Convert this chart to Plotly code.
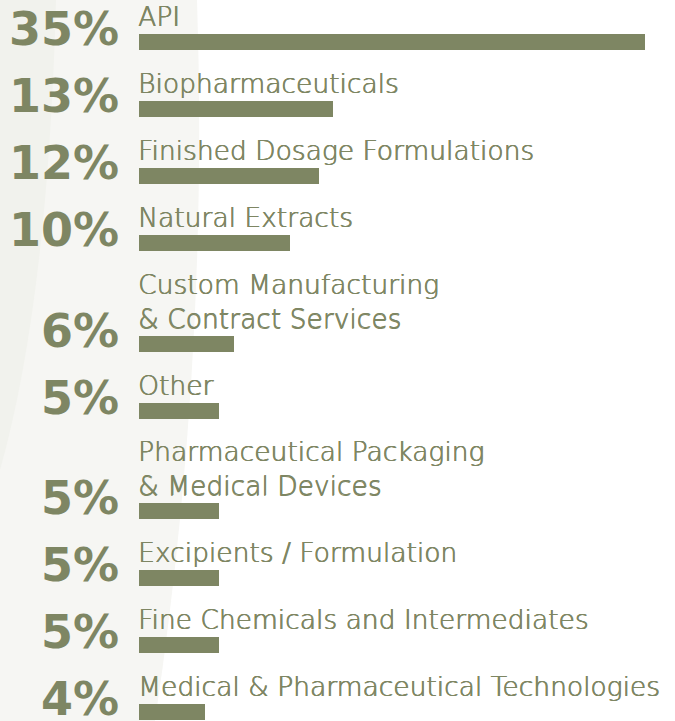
import plotly.graph_objects as go

# ---- data ----
categories = [
    "API",
    "Biopharmaceuticals",
    "Finished Dosage Formulations",
    "Natural Extracts",
    "Custom Manufacturing<br>& Contract Services",
    "Other",
    "Pharmaceutical Packaging<br>& Medical Devices",
    "Excipients / Formulation",
    "Fine Chemicals and Intermediates",
    "Medical & Pharmaceutical Technologies",
]
shares = [35, 13, 12, 10, 6, 5, 5, 5, 5, 4]
share_labels = [f"{v}%" for v in shares]

# ---- style ----
W, H = 675, 721
OLIVE = "#7e8663"
LEAD = 0.66          # small stub that bars start left of zero
ZERO_PX, PX_PER_UNIT = 148.4, 14.19
ROW_PX, FIRST_PX = 67, 42

# row positions (in row units), extra half row for each additional label line
pos = []
k = 0.0
for i, c in enumerate(categories):
    lines = c.count("<br>") + 1
    if i > 0:
        k += 1 + 0.5 * (lines - 1)
    pos.append(k)

fig = go.Figure()
fig.add_trace(go.Bar(
    x=[v + LEAD for v in shares],
    base=[-LEAD] * len(shares),
    y=pos,
    orientation="h",
    width=16 / ROW_PX,
    marker=dict(color=OLIVE, line=dict(width=0)),
    hoverinfo="skip",
    showlegend=False,
))

ann = []
for c, lab, p in zip(categories, share_labels, pos):
    ann.append(dict(
        x=136 / W, xref="paper", y=p, yref="y",
        text=c, showarrow=False, xanchor="left", yanchor="bottom",
        align="left", yshift=8,
        font=dict(family="DejaVu Sans ExtraLight, DejaVu Sans", size=26.5,
                  color=OLIVE, weight=300,
                  shadow=f"0.6px 0px 0px {OLIVE}, 0px 0.4px 0px {OLIVE}"),
    ))
    ann.append(dict(
        x=121 / W, xref="paper", y=p, yref="y",
        text=f"<b>{lab}</b>", showarrow=False, xanchor="right", yanchor="bottom",
        yshift=-16,
        font=dict(family="DejaVu Sans", size=46, color=OLIVE),
    ))


def px_path(cmds):
    out = []
    for cmd in cmds:
        if isinstance(cmd, str):
            out.append(cmd)
        else:
            x, y = cmd
            out.append(f"{x / W:.4f},{1 - y / H:.4f}")
    return " ".join(out)


shapes = [
    dict(type="path", xref="paper", yref="paper", layer="below",
         path=px_path(["M", (0, 0), "L", (197, 0), "Q", (209, 360), (155, 721), "L", (0, 721), "Z"]),
         fillcolor="#f6f6f3", line=dict(width=0)),
    dict(type="path", xref="paper", yref="paper", layer="below",
         path=px_path(["M", (0, 0), "L", (56, 0), "Q", (48, 300), (0, 470), "Z"]),
         fillcolor="#f1f2ed", line=dict(width=0)),
]

fig.update_layout(
    width=W, height=H,
    margin=dict(l=0, r=0, t=0, b=0),
    paper_bgcolor="white",
    plot_bgcolor="rgba(0,0,0,0)",
    xaxis=dict(range=[-ZERO_PX / PX_PER_UNIT, (W - ZERO_PX) / PX_PER_UNIT],
               visible=False, fixedrange=True),
    yaxis=dict(range=[(H - FIRST_PX) / ROW_PX, -FIRST_PX / ROW_PX],
               visible=False, fixedrange=True),
    annotations=ann,
    shapes=shapes,
    bargap=0,
)

fig.write_html(
    "out.html",
    config={"displayModeBar": False},
    post_script="document.body.style.margin='0';document.body.style.overflow='hidden';",
)
